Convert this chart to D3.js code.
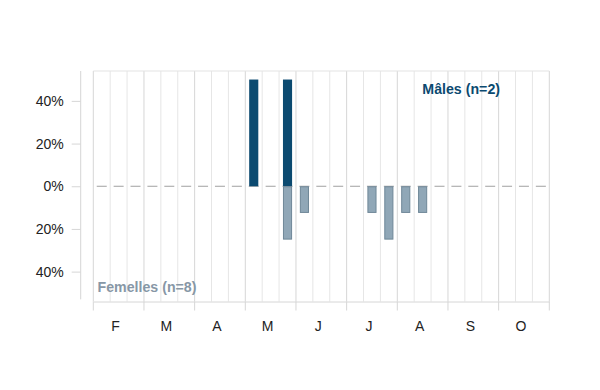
<!DOCTYPE html>
<html>
<head>
<meta charset="utf-8">
<script src="https://cdn.jsdelivr.net/npm/d3@7"></script>
<style>
  body { margin: 0; background: #fff; }
  svg { font-family: "Liberation Sans", Arial, sans-serif; }
</style>
</head>
<body>
<div id="chart"></div>
<script>
// months shown on the x axis, each split in 3 decades
var months = ['F', 'M', 'A', 'M', 'J', 'J', 'A', 'S', 'O'];
var decades = [1, 2, 3];
// decade index (0 = first decade of February) -> percentage
var maleSlots = [9, 11];
var maleValues = [50, 50];
var femaleSlots = [11, 12, 16, 17, 18, 19];
var femaleValues = [25, 12.5, 12.5, 25, 12.5, 12.5];
var yTicks = [-40, -20, 0, 20, 40];
var maleLabel = 'Mâles (n=2)';
var femaleLabel = 'Femelles (n=8)';

var width = 600, height = 390;
var margin = { left: 93.3, right: 50.7, top: 71, bottom: 88.5 };
var maleColor = '#0b4a70', femaleColor = '#90a7b7', femaleStroke = '#6f8798';

var svg = d3.select('#chart').append('svg')
  .attr('width', width)
  .attr('height', height);

var slots = d3.range(months.length * decades.length);

var x = d3.scaleBand()
  .domain(slots)
  .range([margin.left, width - margin.right])
  .paddingInner(0)
  .paddingOuter(0);

var xMonth = d3.scaleBand()
  .domain(d3.range(months.length))
  .range([margin.left, width - margin.right]);

var y = d3.scaleLinear()
  .domain([-54, 54])
  .range([height - margin.bottom, margin.top]);

var barW = x.bandwidth() * 0.54;

// vertical grid (decades)
svg.append('g')
  .selectAll('line')
  .data(d3.range(slots.length + 1))
  .enter().append('line')
  .attr('x1', function(d){ return margin.left + d * x.bandwidth(); })
  .attr('x2', function(d){ return margin.left + d * x.bandwidth(); })
  .attr('y1', y(54))
  .attr('y2', y(-54))
  .attr('stroke', function(d){ return d % 3 === 0 ? '#d6d6d6' : '#e6e6e6'; })
  .attr('stroke-width', 1);

// top border
svg.append('line')
  .attr('x1', margin.left).attr('x2', width - margin.right)
  .attr('y1', y(54)).attr('y2', y(54))
  .attr('stroke', '#e3e3e3');

// zero line dashed, one dash per decade
svg.append('line')
  .attr('x1', x(0) + (x.bandwidth() - 10) / 2)
  .attr('x2', x(slots.length - 1) + (x.bandwidth() + 10) / 2)
  .attr('y1', y(0)).attr('y2', y(0))
  .attr('stroke', '#a0a0a0')
  .attr('stroke-dasharray', '10,' + (x.bandwidth() - 10));

// male bars
svg.append('g')
  .selectAll('rect')
  .data(maleSlots)
  .enter().append('rect')
  .attr('x', function(d){ return x(d) + (x.bandwidth() - barW) / 2; })
  .attr('y', function(d, i){ return y(maleValues[i]); })
  .attr('width', barW)
  .attr('height', function(d, i){ return y(0) - y(maleValues[i]); })
  .attr('fill', maleColor);

// female bars (downward)
svg.append('g')
  .selectAll('rect')
  .data(femaleSlots)
  .enter().append('rect')
  .attr('x', function(d){ return x(d) + (x.bandwidth() - barW) / 2 + 0.5; })
  .attr('y', y(0) + 0.5)
  .attr('width', barW - 1)
  .attr('height', function(d, i){ return y(-femaleValues[i]) - y(0) - 1; })
  .attr('fill', femaleColor)
  .attr('stroke', femaleStroke)
  .attr('stroke-width', 1);

// y axis
var yAxis = d3.axisLeft(y)
  .tickValues(yTicks)
  .tickSize(9)
  .tickPadding(8)
  .tickFormat(function(d){ return Math.abs(d) + '%'; });

var gy = svg.append('g')
  .attr('transform', 'translate(80.7,0)')
  .call(yAxis);
gy.select('.domain').attr('stroke', '#d6d6d6').attr('d', 'M0,' + y(54) + 'V' + y(-53));
gy.selectAll('.tick line').attr('stroke', '#d6d6d6');
gy.selectAll('.tick text')
  .attr('font-size', 14)
  .attr('fill', '#222')
  .attr('font-family', '"Liberation Sans", Arial, sans-serif');

// x axis
var xAxis = d3.axisBottom(xMonth)
  .tickSize(0)
  .tickPadding(20)
  .tickFormat(function(d){ return months[d]; });

var gx = svg.append('g')
  .attr('transform', 'translate(0,' + y(-54) + ')')
  .call(xAxis);
gx.select('.domain').attr('stroke', '#d6d6d6');
gx.selectAll('.tick text')
  .attr('dx', -3)
  .attr('font-size', 14)
  .attr('fill', '#222')
  .attr('font-family', '"Liberation Sans", Arial, sans-serif');

// month ticks below axis
gx.append('g')
  .selectAll('line')
  .data(d3.range(months.length + 1))
  .enter().append('line')
  .attr('x1', function(d){ return margin.left + d * xMonth.bandwidth(); })
  .attr('x2', function(d){ return margin.left + d * xMonth.bandwidth(); })
  .attr('y1', 0).attr('y2', 9)
  .attr('stroke', '#d6d6d6');

// labels
svg.append('text')
  .attr('x', 500)
  .attr('y', 93.5)
  .attr('text-anchor', 'end')
  .attr('font-size', 14.2)
  .attr('font-weight', 'bold')
  .attr('fill', maleColor)
  .text(maleLabel);

svg.append('text')
  .attr('x', 97.5)
  .attr('y', 291.5)
  .attr('font-size', 14.2)
  .attr('font-weight', 'bold')
  .attr('fill', '#8797a6')
  .text(femaleLabel);
</script>
</body>
</html>
